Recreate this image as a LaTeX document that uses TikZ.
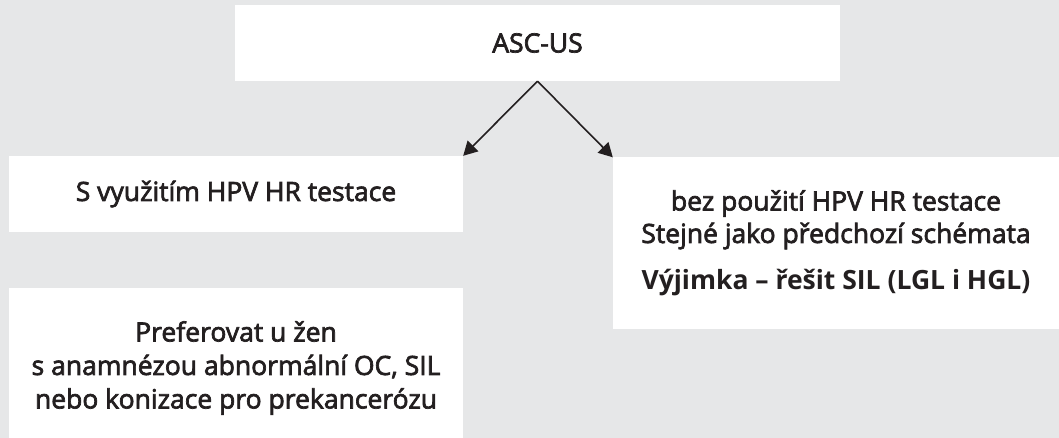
\documentclass[tikz,border=0pt]{standalone}
\usepackage{fontspec}
\setmainfont{Open Sans}[UprightFeatures={FakeBold=2.6}]
\usetikzlibrary{arrows.meta}
\definecolor{pagebg}{HTML}{E6E7E8}
\definecolor{ink}{HTML}{231F20}
\tikzset{
  box/.style={fill=white, draw=none, inner sep=0pt, align=center, text=ink,
    font=\fontsize{26.5}{33.5}\selectfont},
  arr/.style={draw=ink, line width=1.6pt, -{Triangle[length=14pt,width=15pt]}},
}
\begin{document}
\begin{tikzpicture}[x=1pt,y=-1pt]
  \fill[pagebg] (0,0) rectangle (1059,438);
  \useasboundingbox (0,0) rectangle (1059,438);
  \node[box, minimum width=605pt, minimum height=76pt] (top) at (537.5,43) {ASC-US};
  \node[box, minimum width=454pt, minimum height=76pt] (left) at (236,194) {S využitím HPV HR testace};
  \node[box, minimum width=446pt, minimum height=171pt] (right) at (836,243)
    {bez použití HPV HR testace\\[-1pt] Stejné jako předchozí schémata\\[13pt] \textbf{Výjimka – řešit SIL (LGL i HGL)}};
  \node[box, minimum width=454pt, minimum height=150pt] (pref) at (236,363) {};
  \node[box, fill=none, anchor=center] (preftext) at (236,368)
    {Preferovat u žen\\ s anamnézou abnormální OC, SIL\\ nebo konizace pro prekancerózu};
  \draw[arr] (top.south) -- (left.north east);
  \draw[arr] (top.south) -- (right.north west);
\end{tikzpicture}
\end{document}
